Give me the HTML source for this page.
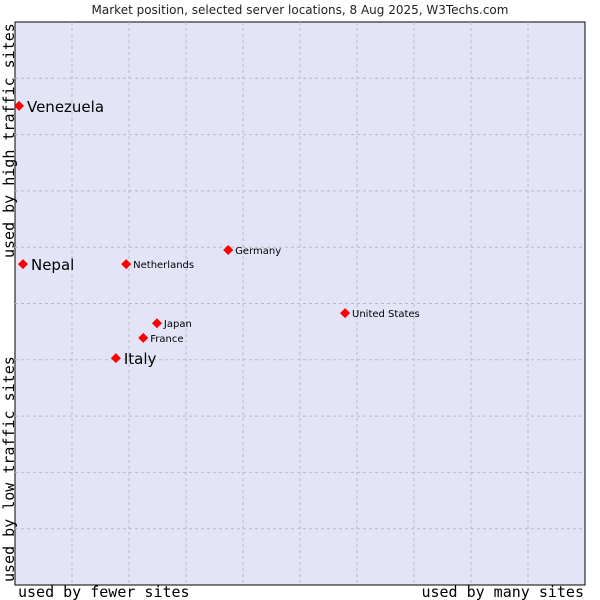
<!DOCTYPE html>
<html><head><meta charset="utf-8"><style>
body{margin:0;background:#fff;width:600px;height:600px;overflow:hidden}
svg{display:block}
</style></head><body>
<svg width="600" height="600" xmlns="http://www.w3.org/2000/svg">
<text x="300" y="14" text-anchor="middle" font-family="DejaVu Sans, sans-serif" font-size="12" fill="#222">Market position, selected server locations, 8 Aug 2025, W3Techs.com</text>
<rect x="15" y="22" width="570" height="563" fill="#e4e4f8" stroke="#000" stroke-width="1"/>
<g id="grid"></g>
<g id="pts"></g>
<text x="18" y="597" font-family="DejaVu Sans Mono, monospace" font-size="15" fill="#000">used by fewer sites</text>
<text x="584" y="597" text-anchor="end" font-family="DejaVu Sans Mono, monospace" font-size="15" fill="#000">used by many sites</text>
<text transform="translate(14,582) rotate(-90)" font-family="DejaVu Sans Mono, monospace" font-size="15" fill="#000">used by low traffic sites</text>
<text transform="translate(14,258) rotate(-90)" font-family="DejaVu Sans Mono, monospace" font-size="15" fill="#000">used by high traffic sites</text>
</svg>
<script>
const names=["Venezuela","Nepal","Netherlands","Germany","United States","Japan","France","Italy"];
const xs=[0.7,1.4,19.5,37.4,57.9,24.9,22.5,17.7];
const ys=[85.1,57.0,57.0,59.5,48.3,46.5,43.9,40.3];
const big=[true,true,false,false,false,false,false,true];
const L=15,T=22,W=570,H=563;
const sx=v=>L+v/100*W, sy=v=>T+H-v/100*H;
const NS="http://www.w3.org/2000/svg";
const g=document.getElementById('grid');
for(let i=1;i<10;i++){
 const a=document.createElementNS(NS,'line');
 a.setAttribute('x1',sx(i*10));a.setAttribute('x2',sx(i*10));a.setAttribute('y1',T);a.setAttribute('y2',T+H);
 a.setAttribute('stroke','#bbb');a.setAttribute('stroke-dasharray','3,3');
 
 
 g.appendChild(a);
 const b=document.createElementNS(NS,'line');
 b.setAttribute('y1',sy(i*10));b.setAttribute('y2',sy(i*10));b.setAttribute('x1',L);b.setAttribute('x2',L+W);
 b.setAttribute('stroke','#bbb');b.setAttribute('stroke-dasharray','3,3');
 
 
 g.appendChild(b);
}
const p=document.getElementById('pts');
names.forEach((n,i)=>{
 const x=sx(xs[i]),y=sy(ys[i]);
 const c=document.createElementNS(NS,'path');
 c.setAttribute('d',`M${x-5},${y}L${x},${y-5}L${x+5},${y}L${x},${y+5}Z`);
 c.setAttribute('fill','#f00');
 
 
 p.appendChild(c);
 const t=document.createElementNS(NS,'text');
 t.setAttribute('x',x+(big[i]?8:7));t.setAttribute('y',y+(big[i]?6:4));
 t.setAttribute('font-family','DejaVu Sans, sans-serif');
 t.setAttribute('font-size',big[i]?'15':'10');
 t.setAttribute('fill','#000');
 t.textContent=n;
 
 
 p.appendChild(t);
});
</script>
</body></html>
